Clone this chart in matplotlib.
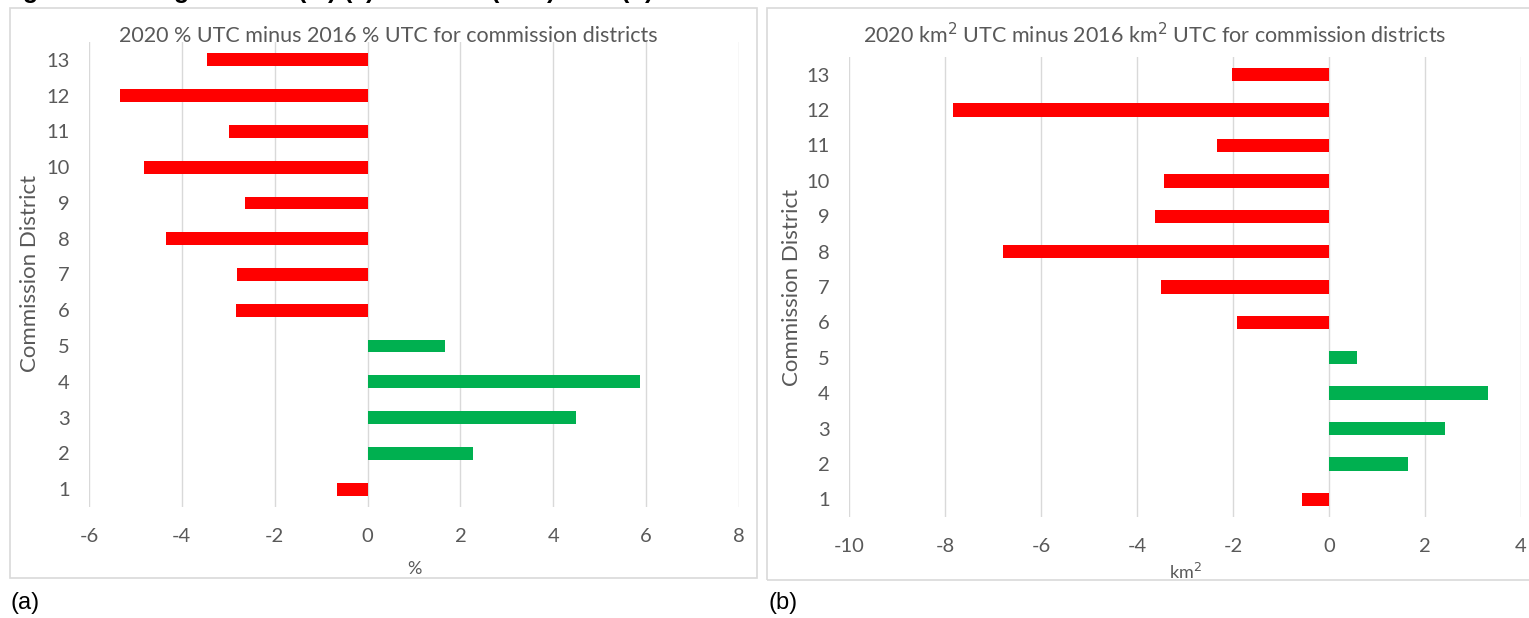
import numpy as np
import matplotlib
matplotlib.use('agg')
import matplotlib.pyplot as plt
from matplotlib.patches import Rectangle

plt.rcParams['font.family'] = ['Lato', 'DejaVu Sans']

districts = np.arange(1, 14)
# change in % UTC, districts 1..13
pct_change = [-0.66, 2.28, 4.48, 5.86, 1.67, -2.83, -2.81, -4.35, -2.64, -4.82, -2.99, -5.34, -3.45]
# change in km2 UTC, districts 1..13
km2_change = [-0.56, 1.65, 2.41, 3.31, 0.58, -1.92, -3.49, -6.80, -3.62, -3.44, -2.33, -7.83, -2.02]

pct_ticks = [-6, -4, -2, 0, 2, 4, 6, 8]
km2_ticks = [-10, -8, -6, -4, -2, 0, 2, 4]

red, green = '#ff0000', '#00b050'
grey_txt = '#595959'
W, H = 1529., 618.


def px_axes(fig, x0, x1, y0, y1):
    return fig.add_axes([x0/W, 1 - y1/H, (x1 - x0)/W, (y1 - y0)/H])


def draw_panel(ax, vals, ticks, xlabel, height):
    colors = [green if v > 0 else red for v in vals]
    ax.barh(districts, vals, height=height, color=colors, zorder=3)
    ax.set_xlim(ticks[0], ticks[-1])
    ax.set_ylim(0.5, 13.5)
    ax.set_xticks(ticks)
    ax.set_xticklabels([str(t) for t in ticks])
    ax.set_yticks(districts)
    ax.grid(axis='x', color='#d9d9d9', lw=1.0, zorder=0)
    for s in ax.spines.values():
        s.set_visible(False)
    ax.tick_params(length=0, labelsize=14.5, labelcolor=grey_txt)
    ax.tick_params(axis='x', pad=15)
    ax.tick_params(axis='y', pad=14)
    ax.set_xlabel(xlabel, fontsize=13, color=grey_txt, labelpad=12)


fig = plt.figure(figsize=(W/100, H/100), dpi=100)

# panel frames
fig.patches.append(Rectangle((10/W, 1 - 578/H), 747/W, 570/H, transform=fig.transFigure,
                             fill=False, ec='#d9d9d9', lw=1.2))
fig.patches.append(Rectangle((767/W, 1 - 580/H), 770/W, 572/H, transform=fig.transFigure,
                             fill=False, ec='#d9d9d9', lw=1.2))

ax1 = px_axes(fig, 89, 739, 42, 507)
draw_panel(ax1, pct_change, pct_ticks, '%', 0.36)
ax2 = px_axes(fig, 849, 1521, 57, 517)
draw_panel(ax2, km2_change, km2_ticks, 'km$^2$', 0.38)
ax2.xaxis.labelpad = 5

fig.text(388/W, 1 - 36/H, '2020 % UTC minus 2016 % UTC for commission districts',
         ha='center', va='center', fontsize=15.5, color=grey_txt)
fig.text(1155/W, 1 - 35/H, '2020 km$^2$ UTC minus 2016 km$^2$ UTC for commission districts',
         ha='center', va='center', fontsize=15.5, color=grey_txt)
fig.text(30/W, 1 - 273/H, 'Commission District', rotation=90, ha='center', va='center',
         fontsize=16, color=grey_txt)
fig.text(792/W, 1 - 287/H, 'Commission District', rotation=90, ha='center', va='center',
         fontsize=16, color=grey_txt)

fig.text(10/W, 1 - 603/H, '(a)', ha='left', va='center', fontsize=17,
         family='Liberation Sans')
fig.text(768/W, 1 - 603/H, '(b)', ha='left', va='center', fontsize=17,
         family='Liberation Sans')

# caption line, cut off at the top edge as in the source picture
fig.text(0, 1 + 9/H, 'Figure 5. Change in UTC (%) (a) and area (km$^2$) UTC (b) for commission districts between 2016 and 2020',
         ha='left', va='center', fontsize=18, weight='bold', family='Liberation Sans')

fig.savefig('out.png', dpi=100)
